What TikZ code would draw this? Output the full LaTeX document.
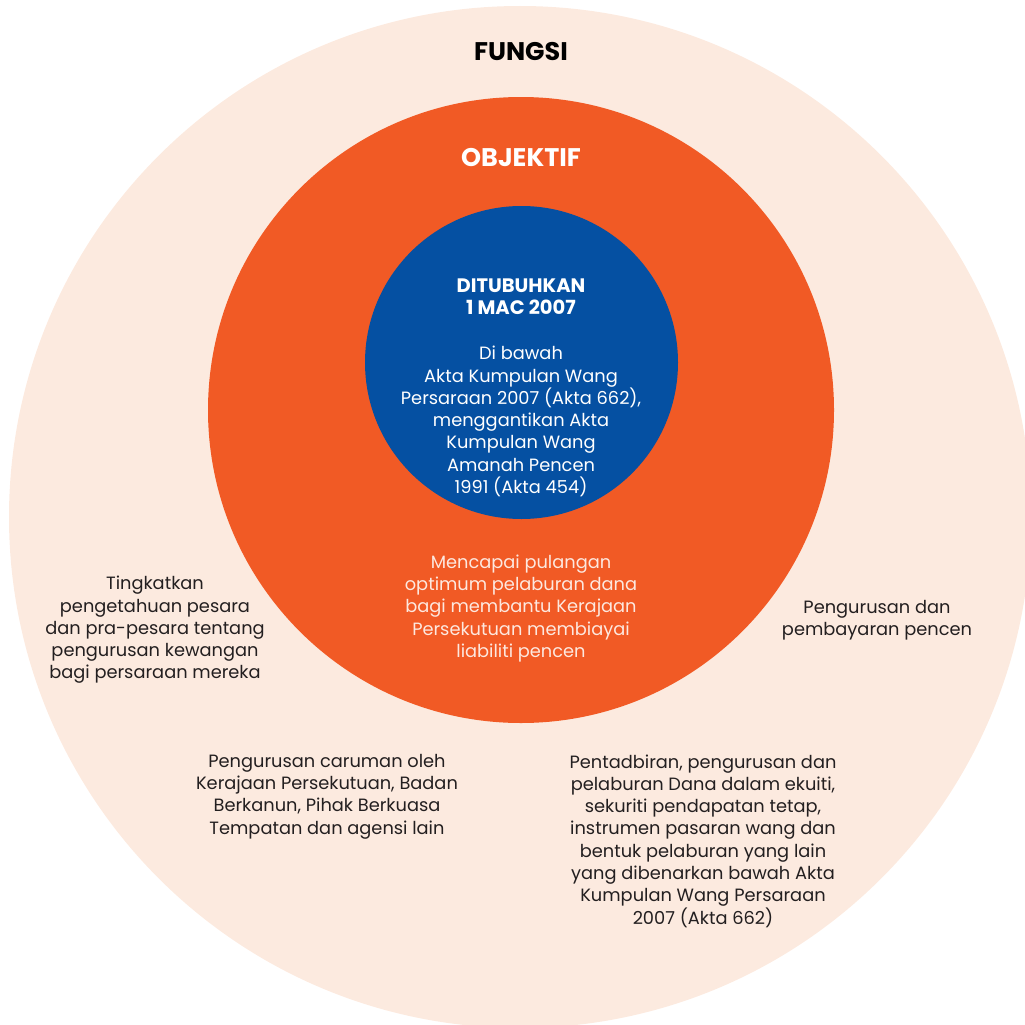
\documentclass[tikz,border=0pt]{standalone}
\usepackage{fontspec}
\setmainfont{Poppins}
\definecolor{peach}{HTML}{FCEADF}
\definecolor{kwaporange}{HTML}{F15A25}
\definecolor{kwapblue}{HTML}{0550A2}
\definecolor{darktext}{HTML}{231F20}
\definecolor{palewhite}{HTML}{FDE8DF}
\begin{document}
\begin{tikzpicture}[x=1pt,y=-1pt,
  ring/.style={circle, inner sep=0pt, draw=none},
  body/.style={align=center, font=\fontsize{17.8}{22.3}\selectfont, text=darktext, inner sep=0pt},
  wbody/.style={body, text=white},
  head/.style={align=center, font=\fontsize{25.5}{28}\selectfont\bfseries, inner sep=0pt},
  whead/.style={align=center, font=\fontsize{19.5}{22.3}\selectfont\bfseries, text=white, inner sep=0pt}]
\useasboundingbox (0,0) rectangle (1025,1025);
\node[ring, fill=peach, minimum size=1022pt] (fungsi) at (520,517) {};
\node[ring, fill=kwaporange, minimum size=626pt] (objektif) at (521,410) {};
\node[ring, fill=kwapblue, minimum size=313pt] (asas) at (521.5,362.5) {};
\node[head, text=black] (tfungsi) at (521,52) {FUNGSI};
\node[head, text=white] (tobjektif) at (521,158) {OBJEKTIF};
\node[whead] (tditubuh) at (521,296.5) {DITUBUHKAN\\1 MAC 2007};
\node[wbody] (takta) at (521,421.5) {Di bawah\\Akta Kumpulan Wang\\Persaraan 2007 (Akta 662),\\menggantikan Akta\\Kumpulan Wang\\Amanah Pencen\\1991 (Akta 454)};
\node[body, text=palewhite] (tobj) at (521,608.5) {Mencapai pulangan\\optimum pelaburan dana\\bagi membantu Kerajaan\\Persekutuan membiayai\\liabiliti pencen};
\node[body] (tleft) at (155,630) {Tingkatkan\\pengetahuan pesara\\dan pra-pesara tentang\\pengurusan kewangan\\bagi persaraan mereka};
\node[body] (tright) at (877,620) {Pengurusan dan\\pembayaran pencen};
\node[body] (tbl) at (327,796.5) {Pengurusan caruman oleh\\Kerajaan Persekutuan, Badan\\Berkanun, Pihak Berkuasa\\Tempatan dan agensi lain};
\node[body] (tbr) at (703,841) {Pentadbiran, pengurusan dan\\pelaburan Dana dalam ekuiti,\\sekuriti pendapatan tetap,\\instrumen pasaran wang dan\\bentuk pelaburan yang lain\\yang dibenarkan bawah Akta\\Kumpulan Wang Persaraan\\2007 (Akta 662)};
\end{tikzpicture}
\end{document}
